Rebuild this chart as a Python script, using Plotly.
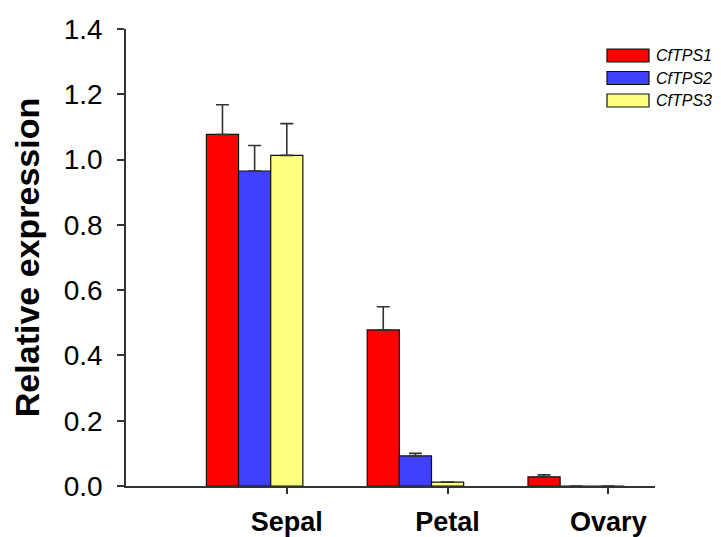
import plotly.graph_objects as go

categories = ["Sepal", "Petal", "Ovary"]
positions = [1, 2, 3]
series_names = ["CfTPS1", "CfTPS2", "CfTPS3"]
cftps1 = [1.077, 0.478, 0.028]
cftps1_err = [0.091, 0.071, 0.006]
cftps2 = [0.965, 0.092, 0.0]
cftps2_err = [0.078, 0.008, 0.0]
cftps3 = [1.013, 0.012, 0.0]
cftps3_err = [0.097, 0.0, 0.0]
y_ticks = [0.0, 0.2, 0.4, 0.6, 0.8, 1.0, 1.2, 1.4]

colors = ["#FF0000", "#4040FF", "#FFFF80"]
offsets = [-0.5, -0.3, -0.1]
values = [cftps1, cftps2, cftps3]
errors = [cftps1_err, cftps2_err, cftps3_err]

FONT = "Arial, Liberation Sans, sans-serif"
# page body has an 8px margin, so the figure is sized/offset to compensate
OFF = 8
W, H = 721 - OFF, 537 - OFF
L, T = 126 - OFF, 29 - OFF
R = W - (655 - OFF)
B = H - (486 - OFF)
PW = W - L - R
PH = H - T - B

fig = go.Figure()
for name, vals, errs, col, off in zip(series_names, values, errors, colors, offsets):
    fig.add_trace(go.Bar(
        x=positions, y=vals, name=name, width=0.2, offset=off,
        marker=dict(color=col, line=dict(color="#111111", width=1.2)),
        error_y=dict(type="data", array=errs, arrayminus=[0]*len(errs), symmetric=False,
                     color="#333333", thickness=1.6, width=6.5),
        showlegend=False,
    ))

# legend drawn manually (wide swatches like the reference), screen pixel positions
leg_px = [55.5, 78, 100.5]
for name, col, py in zip(series_names, colors, leg_px):
    yy = ((486 - py)) / PH
    fig.add_shape(type="rect", xref="paper", yref="paper",
                  x0=(607-126)/PW, x1=(649-126)/PW, y0=yy-6.5/PH, y1=yy+6.5/PH,
                  fillcolor=col, line=dict(color="#111111", width=1.2))
    fig.add_annotation(xref="paper", yref="paper", x=(654-126)/PW, y=yy,
                       text="<i>"+name+"</i>", showarrow=False, xanchor="left",
                       yanchor="middle", font=dict(family=FONT, size=16, color="#000"))

fig.update_layout(
    width=W, height=H,
    margin=dict(l=L, r=R, t=T, b=B, autoexpand=False),
    plot_bgcolor="white", paper_bgcolor="white",
    barmode="overlay",
    font=dict(family=FONT, color="#000"),
)
fig.update_xaxes(
    range=[0.0, 3.29], tickvals=positions, ticktext=["<b>"+c+"</b>" for c in categories],
    showline=True, linecolor="#333333", linewidth=1.6, ticks="outside", ticklen=6,
    tickcolor="#333333", tickwidth=1.6, showgrid=False, zeroline=False,
    tickfont=dict(family=FONT, size=27, color="#000"), ticklabelstandoff=5,
    automargin=False,
)
fig.update_yaxes(
    range=[0, 1.4], tickvals=y_ticks, ticktext=[f"{v:.1f}" for v in y_ticks],
    showline=True, linecolor="#333333", linewidth=1.6, ticks="outside", ticklen=7,
    tickcolor="#333333", tickwidth=1.6, showgrid=False, zeroline=False,
    tickfont=dict(family=FONT, size=28, color="#000"), ticklabelstandoff=9,
    title=dict(text="<b>Relative expression</b>", font=dict(family=FONT, size=34, color="#000"),
               standoff=14),
    automargin=False,
)

fig.write_html("out.html")
